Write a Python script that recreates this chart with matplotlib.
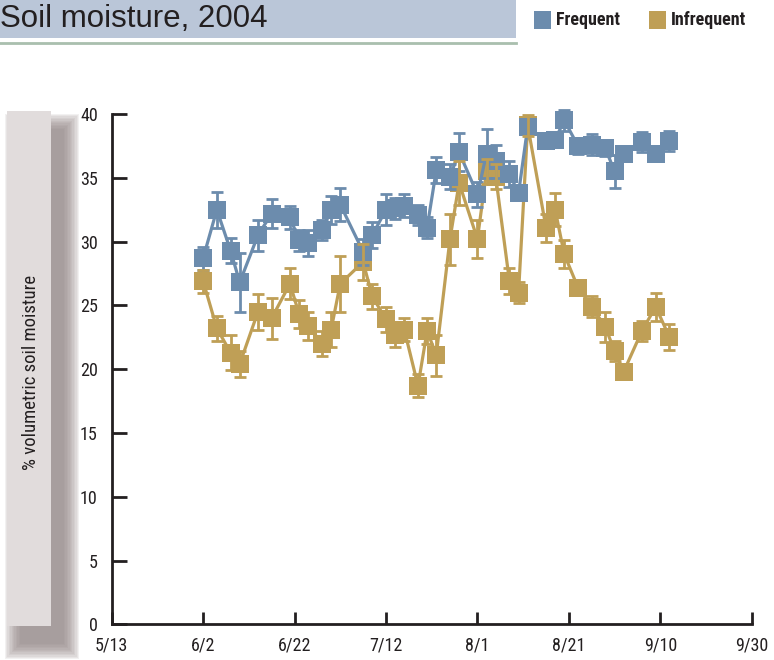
import matplotlib
matplotlib.use("Agg")
import matplotlib.pyplot as plt
from matplotlib.patches import Rectangle
from matplotlib.lines import Line2D
from datetime import datetime, timedelta

# ---------------- data ----------------
dates = ["6/2", "6/5", "6/8", "6/10", "6/14", "6/17", "6/21", "6/23", "6/25", "6/28",
         "6/30", "7/2", "7/7", "7/9", "7/12", "7/14", "7/16", "7/19", "7/21", "7/23",
         "7/26", "7/28", "8/1", "8/3", "8/5", "8/8", "8/10", "8/12", "8/16", "8/18",
         "8/20", "8/23", "8/26", "8/29", "8/31", "9/2", "9/6", "9/9", "9/12"]

frequent = [28.7, 32.5, 29.3, 26.8, 30.5, 32.2, 31.9, 30.1, 29.9, 30.9,
            32.5, 32.9, 29.2, 30.5, 32.5, 32.6, 32.8, 32.1, 31.1, 35.6,
            35.1, 37.0, 33.7, 36.9, 36.3, 35.3, 33.8, 39.0, 37.9, 38.0,
            39.5, 37.5, 37.6, 37.3, 35.5, 36.9, 37.8, 36.9, 37.9]
frequent_err = [0.9, 1.4, 1.0, 2.3, 1.2, 1.1, 0.9, 0.8, 1.0, 0.8,
                1.1, 1.3, 1.0, 1.0, 1.2, 0.8, 0.9, 0.8, 0.8, 1.0,
                1.0, 1.5, 1.0, 1.9, 1.3, 1.0, 0.5, 0.5, 0.6, 0.6,
                0.8, 0.6, 0.8, 0.6, 1.3, 0.6, 0.8, 0.5, 0.8]

infrequent = [26.9, 23.2, 21.3, 20.4, 24.5, 24.0, 26.7, 24.3, 23.4, 22.0,
              23.1, 26.7, 28.4, 25.7, 23.9, 22.7, 23.1, 18.7, 23.0, 21.1,
              30.2, 34.6, 30.2, 35.5, 35.1, 26.9, 26.0, 39.1, 31.1, 32.5,
              29.0, 26.4, 24.9, 23.3, 21.4, 19.8, 23.0, 24.9, 22.5]
infrequent_err = [0.9, 1.0, 1.4, 1.0, 1.4, 1.6, 1.2, 1.1, 1.1, 1.0,
                  1.4, 2.2, 1.4, 1.0, 1.0, 1.0, 0.9, 0.9, 1.0, 1.6,
                  2.0, 1.7, 1.5, 1.0, 1.0, 1.0, 0.8, 0.8, 1.1, 1.3,
                  1.1, 0.6, 0.8, 1.2, 0.8, 0.5, 0.8, 1.1, 1.0]

series_names = ["Frequent", "Infrequent"]
title = "Soil moisture, 2004"
ylabel = "% volumetric soil moisture"
y_ticks = [0, 5, 10, 15, 20, 25, 30, 35, 40]
x_start = "5/13"
x_end = "9/30"
x_step_days = 20

# ---------------- style ----------------
BLUE = "#6c8cad"
GOLD = "#bf9f56"
AXC = "#231f20"
W, H = 774, 660

FONT_N = ["Liberation Sans Narrow", "Roboto Condensed", "Liberation Sans", "DejaVu Sans"]
FONT = ["Liberation Sans", "DejaVu Sans"]
plt.rcParams["font.family"] = FONT_N


def d(s):
    m, dd = s.split("/")
    return datetime(2004, int(m), int(dd))


xs = [d(s) for s in dates]

fig = plt.figure(figsize=(W / 100, H / 100), dpi=100)


def fx(px):
    return px / W


def fy(py):
    return 1 - py / H


# ---------- title bar ----------
fig.patches.append(Rectangle((0, fy(38)), fx(516), 38 / H, transform=fig.transFigure,
                             facecolor="#bac6d8", edgecolor="none", zorder=0))
fig.add_artist(Line2D([0, fx(516)], [fy(43), fy(43)], transform=fig.transFigure,
                      color="#a9bfae", lw=2))
fig.text(fx(0.5), fy(19), title, fontsize=22.5, family=FONT, color="#231f20",
         ha="left", va="center")

# ---------- legend ----------
fig.patches.append(Rectangle((fx(534), fy(29)), fx(17), 18 / H, transform=fig.transFigure,
                             facecolor=BLUE, edgecolor="none"))
fig.text(fx(556), fy(20), series_names[0], fontsize=13, weight="bold",
         color="#231f20", ha="left", va="center")
fig.patches.append(Rectangle((fx(649), fy(29)), fx(17), 18 / H, transform=fig.transFigure,
                             facecolor=GOLD, edgecolor="none"))
fig.text(fx(671), fy(20), series_names[1], fontsize=13, weight="bold",
         color="#231f20", ha="left", va="center")

# ---------- y-label box with shadow ----------
bx0, by0, bx1, by1 = 7, 111, 51, 626
for i in range(12):
    grow = i * 1.4
    fig.patches.append(Rectangle((fx(bx0 + 13 - grow), fy(by1 + 18 + grow)),
                                 fx(bx1 - bx0 + 2 * grow), (by1 - by0 + 2 * grow) / H,
                                 transform=fig.transFigure, facecolor="#8f8282",
                                 edgecolor="none", alpha=0.11, zorder=0))
fig.patches.append(Rectangle((fx(bx0), fy(by1)), fx(bx1 - bx0), (by1 - by0) / H,
                             transform=fig.transFigure, facecolor="#e1dcdc",
                             edgecolor="none", zorder=1))
fig.text(fx(31), fy(372), ylabel, rotation=90, fontsize=13.5, color="#231f20",
         ha="center", va="center", zorder=2)

# ---------- axes ----------
left, right, top, bottom = 111.7, 751.7, 114, 624.3
ax = fig.add_axes([fx(left), fy(bottom), fx(right - left), (bottom - top) / H])
ax.set_facecolor("none")

x0, x1 = d(x_start), d(x_end)
ax.set_xlim(x0, x1)
ax.set_ylim(0, 40)

ticks = []
t = x0
while t <= x1:
    ticks.append(t)
    t = t + timedelta(days=x_step_days)
ax.set_xticks(ticks)
ax.set_xticklabels([f"{t.month}/{t.day}" for t in ticks])
ax.set_yticks(y_ticks)
ax.set_yticklabels([str(v) for v in y_ticks])

for s in ["top", "right"]:
    ax.spines[s].set_visible(False)
for s in ["left", "bottom"]:
    ax.spines[s].set_color(AXC)
    ax.spines[s].set_linewidth(2)

ax.tick_params(axis="y", direction="in", length=11, width=2, color=AXC,
               labelsize=13, pad=10, labelcolor="#231f20")
ax.tick_params(axis="x", direction="in", length=9, width=2, color=AXC,
               labelsize=13, pad=9, labelcolor="#231f20")

# gold series (below)
ax.plot(xs, infrequent, color=GOLD, lw=2.3, marker="s", markersize=12.5,
        markeredgewidth=0, zorder=2, clip_on=False)
# blue series
ax.plot(xs, frequent, color=BLUE, lw=2.3, marker="s", markersize=12.5,
        markeredgewidth=0, zorder=3, clip_on=False)
eb1 = ax.errorbar(xs, frequent, yerr=frequent_err, fmt="none", ecolor=BLUE,
                  elinewidth=2, capsize=4.3, capthick=2, zorder=3.5)
eb2 = ax.errorbar(xs, infrequent, yerr=infrequent_err, fmt="none", ecolor=GOLD,
                  elinewidth=2, capsize=4.3, capthick=2, zorder=4)
for eb in (eb1, eb2):
    for a in eb.lines[1] + eb.lines[2]:
        a.set_clip_on(False)

fig.savefig("out.png", dpi=100)
